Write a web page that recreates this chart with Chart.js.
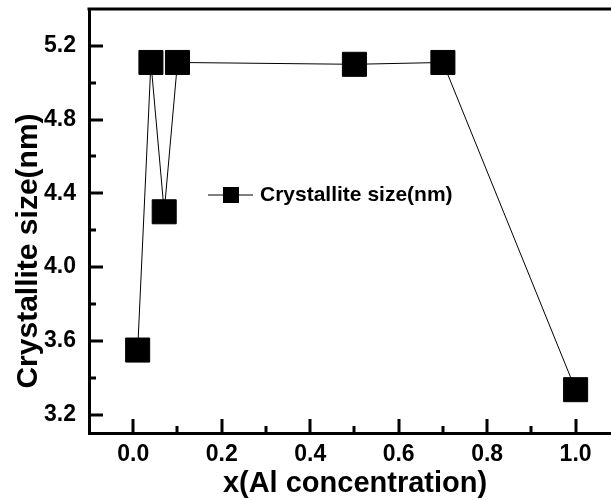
<!DOCTYPE html>
<html>
<head>
<meta charset="utf-8">
<script src="https://cdn.jsdelivr.net/npm/chart.js@4"></script>
<style>
  html, body { margin: 0; padding: 0; background: #fff; }
  #chart { display: block; }
</style>
</head>
<body>
<canvas id="chart" width="611" height="500"></canvas>
<script>
const xValues = [0.01, 0.04, 0.07, 0.1, 0.5, 0.7, 1.0];
const crystalliteSize = [3.55, 5.11, 4.30, 5.11, 5.10, 5.11, 3.335];
const xTicks = [0, 0.2, 0.4, 0.6, 0.8, 1.0];
const yTicks = [3.2, 3.6, 4.0, 4.4, 4.8, 5.2];
const xMinor = [0.1, 0.3, 0.5, 0.7, 0.9];
const yMinor = [3.4, 3.8, 4.2, 4.6, 5.0];
const seriesLabel = 'Crystallite size(nm)';
const xTitle = 'x(Al concentration)';
const yTitle = 'Crystallite size(nm)';

const FONT = '"Liberation Sans", Arial, Helvetica, sans-serif';

// frame, inward ticks, titles and the boxed-in legend
const framePlugin = {
    id: 'frame',
    afterDraw(chart) {
        const ctx = chart.ctx;
        const area = chart.chartArea;
        const xs = chart.scales.x;
        const ys = chart.scales.y;
        ctx.save();
        ctx.strokeStyle = '#000';
        ctx.lineCap = 'butt';

        // top border
        ctx.lineWidth = 3;
        ctx.beginPath();
        ctx.moveTo(area.left - 1.5, area.top);
        ctx.lineTo(area.right, area.top);
        ctx.stroke();

        const tick = (vals, len, isX) => {
            vals.forEach(v => {
                ctx.beginPath();
                if (isX) {
                    const px = Math.round(xs.getPixelForValue(v));
                    ctx.moveTo(px, area.bottom);
                    ctx.lineTo(px, area.bottom - len);
                } else {
                    const py = Math.round(ys.getPixelForValue(v));
                    ctx.moveTo(area.left, py);
                    ctx.lineTo(area.left + len, py);
                }
                ctx.stroke();
            });
        };
        ctx.lineWidth = 3;
        tick(xTicks, 14, true);
        tick(xMinor, 7, true);
        tick(yTicks, 14, false);
        tick(yMinor, 7, false);

        // axis titles
        ctx.fillStyle = '#000';
        ctx.textAlign = 'center';
        ctx.textBaseline = 'middle';
        ctx.font = 'bold 29px ' + FONT;
        ctx.fillText(xTitle, (area.left + area.right) / 2 + 5, 484);
        ctx.save();
        ctx.font = 'bold 30px ' + FONT;
        ctx.translate(29, 251);
        ctx.rotate(-Math.PI / 2);
        ctx.fillText(yTitle, 0, 0);
        ctx.restore();

        // legend
        const ly = 195;
        ctx.lineWidth = 1;
        ctx.beginPath();
        ctx.moveTo(208, ly);
        ctx.lineTo(253, ly);
        ctx.stroke();
        ctx.fillRect(223, ly - 8, 16, 16);
        ctx.font = 'bold 21px ' + FONT;
        ctx.textAlign = 'left';
        ctx.fillText(seriesLabel, 260, ly);
        ctx.restore();
    }
};

const chart = new Chart(document.getElementById('chart').getContext('2d'), {
    type: 'line',
    data: {
        datasets: [{
            label: seriesLabel,
            data: xValues.map((x, i) => ({x: x, y: crystalliteSize[i]})),
            borderColor: '#000',
            borderWidth: 1,
            tension: 0,
            pointStyle: 'rect',
            pointRadius: 17,
            pointHoverRadius: 17,
            pointBackgroundColor: '#000',
            pointBorderColor: '#000',
            pointBorderWidth: 1
        }]
    },
    options: {
        responsive: false,
        animation: false,
        devicePixelRatio: 1,
        layout: {autoPadding: false, padding: {top: 9, right: 0, bottom: 0, left: 0}},
        plugins: {
            legend: {display: false},
            tooltip: {enabled: false}
        },
        scales: {
            x: {
                type: 'linear',
                min: -0.1,
                max: 1.08,
                grid: {display: false},
                border: {display: true, width: 3, color: '#000'},
                afterBuildTicks: (scale) => { scale.ticks = xTicks.map(v => ({value: v})); },
                afterFit: (scale) => {
                    scale.height = 67;
                    scale.paddingLeft = 0;
                    scale.paddingRight = 0;
                },
                ticks: {
                    color: '#000',
                    padding: 0,
                    maxRotation: 0,
                    font: {family: FONT, size: 23, weight: 'bold'},
                    callback: (v) => v.toFixed(1)
                }
            },
            y: {
                type: 'linear',
                min: 3.1,
                max: 5.4,
                grid: {display: false},
                border: {display: true, width: 3, color: '#000'},
                afterBuildTicks: (scale) => { scale.ticks = yTicks.map(v => ({value: v})); },
                afterFit: (scale) => {
                    scale.width = 89;
                    scale.paddingTop = 0;
                    scale.paddingBottom = 0;
                },
                ticks: {
                    color: '#000',
                    padding: 5,
                    font: {family: FONT, size: 23, weight: 'bold'},
                    callback: (v) => v.toFixed(1)
                }
            }
        }
    },
    plugins: [framePlugin]
});
</script>
</body>
</html>
